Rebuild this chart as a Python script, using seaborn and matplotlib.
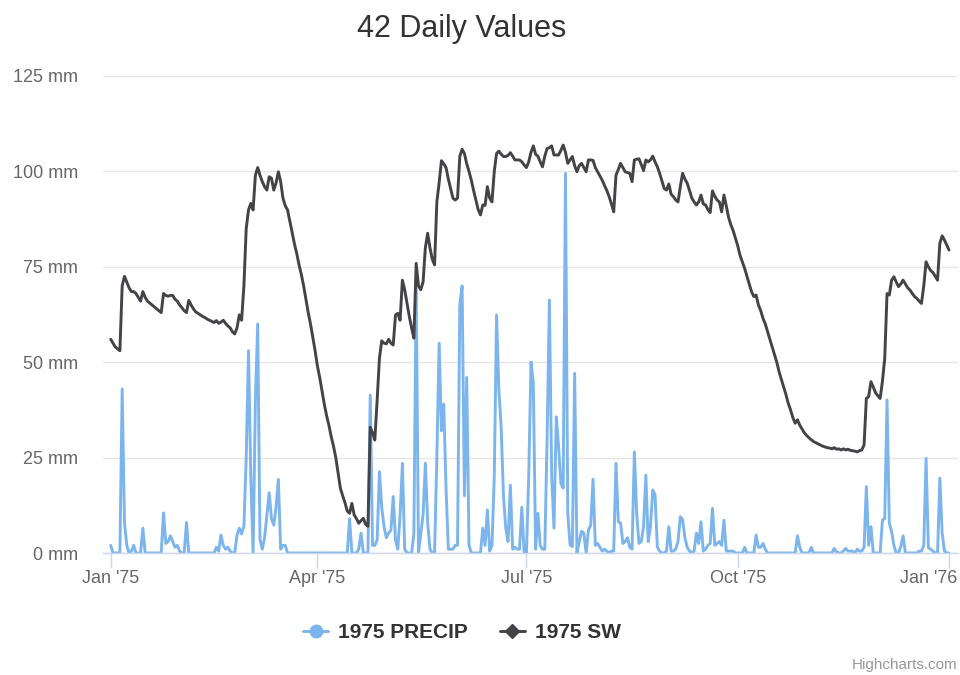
import pandas as pd
import matplotlib
matplotlib.use('Agg')
from matplotlib import pyplot as plt
from matplotlib.lines import Line2D
from matplotlib.transforms import ScaledTranslation
import seaborn as sns

# daily values for 1975, day 0 = Jan 1 1975 ... day 365 = Jan 1 1976
precip = [
    2, 0, 0, 0, 0, 43, 8, 2, 0, 0.5,
    2, 0, 0, 0, 6.5, 0, 0, 0, 0, 0,
    0, 0, 0, 10.5, 2.5, 3, 4.5, 3, 1.5, 2,
    0.5, 0, 0, 8, 0, 0, 0, 0, 0, 0,
    0, 0, 0, 0, 0, 0, 1.5, 0.5, 4.7, 2,
    1, 1.5, 0.5, 0, 0, 4.7, 6.5, 5, 7, 25,
    53, 20, 0, 40, 60, 3.5, 1, 4, 10, 15.8,
    9, 7.3, 12, 19.3, 1, 2, 2, 0, 0, 0,
    0, 0, 0, 0, 0, 0, 0, 0, 0, 0,
    0, 0, 0, 0, 0, 0, 0, 0, 0, 0,
    0, 0, 0, 0, 9, 0, 0, 0, 1, 5.2,
    0, 0, 0, 41.4, 2, 2, 3.4, 21.3, 12, 6.9,
    4, 5.2, 6, 14.8, 3.4, 1, 10, 23.5, 1, 0,
    0, 0, 5, 71, 0, 5, 10, 23.5, 8, 1,
    0, 0, 25, 55, 32, 39, 17, 1, 1, 1,
    2, 2, 65, 70, 15, 46, 2, 0, 0, 0,
    0, 0, 6.5, 2, 11.3, 0.5, 2, 20, 62.4, 42.7,
    33, 15, 6.5, 3, 17.8, 1, 1.5, 1, 1, 12,
    0, 0, 20, 50, 44.5, 1, 10.4, 2, 1, 1,
    30, 66.3, 20, 6.5, 35.7, 27.9, 18.3, 17, 99.5, 10.4,
    2.1, 1.7, 47.1, 0, 3, 5.7, 5.2, 0, 6, 7.3,
    19.3, 2, 2.5, 1.5, 0.5, 1, 0.5, 0, 0.5, 0.5,
    23.5, 8.2, 7.8, 2.5, 3, 4, 1.5, 1, 26.5, 10.4,
    2.5, 3, 7, 20.4, 3, 6.9, 16.5, 15.2, 1.5, 0.5,
    0, 0, 0.5, 6.9, 0.5, 0.5, 1, 3, 9.5, 8.7,
    4, 1.5, 0.5, 0, 0.5, 5.2, 2.5, 8.2, 0.5, 1,
    2, 2.5, 11.7, 2, 2.5, 3, 2, 8.6, 0.5, 0.5,
    0.5, 0.5, 0, 0, 0, 0, 1.5, 0, 0, 0,
    0, 4.7, 1.5, 1.5, 2.5, 1, 0, 0, 0, 0,
    0, 0, 0, 0, 0, 0, 0, 0, 0, 4.5,
    1.5, 0, 0, 0, 0, 1.5, 0, 0, 0, 0,
    0, 0, 0, 0, 0, 1.2, 0.3, 0, 0, 0.5,
    1.2, 0.5, 0.5, 0.5, 0, 1, 0.5, 0.5, 1.5, 17.4,
    2, 6.9, 0, 0, 0, 0, 8.6, 9, 40.1, 7.8,
    5.6, 2, 0, 0, 1.7, 4.5, 0, 0, 0, 0,
    0, 0, 0.5, 0.5, 2, 24.8, 1.4, 1, 0.5, 0,
    0, 19.6, 5.2, 0.5, 0, 0,
]

sw = [
    56, 55, 54, 53.5, 53, 70, 72.5, 71, 69.5, 68.5,
    68.5, 68, 67, 66, 68.5, 67, 66, 65.5, 65, 64.5,
    64, 63.5, 63, 68, 67.5, 67.3, 67.5, 67.5, 66.5, 66,
    65, 64.3, 63.5, 63, 66.2, 65, 64, 63.2, 62.8, 62.4,
    62, 61.7, 61.3, 61, 60.7, 60.4, 60.9, 60.2, 60.5, 61,
    60.2, 59.5, 59, 58, 57.4, 59, 62.4, 61, 70, 85,
    89.9, 91.6, 89.9, 99, 101, 99, 97.3, 96, 95.1, 98.6,
    98.2, 95.1, 97, 99.9, 97.3, 93, 91, 89.9, 87, 84,
    81, 78.5, 75.5, 73, 70, 66.5, 63, 60, 56.5, 53,
    49, 46, 42.5, 39, 36, 33.5, 30.5, 28, 25, 21,
    17, 15, 13.2, 11, 10.4, 13, 10, 9, 7.8, 8.5,
    9.1, 7.5, 7, 33, 31.5, 29.6, 40, 51, 55.6, 55,
    54.8, 56, 55, 54.5, 62.4, 62.8, 61, 71.5, 69, 65.5,
    62, 59, 56.3, 75.9, 70, 69, 71, 80, 83.8, 80,
    77, 75.5, 92, 97, 102.8, 102, 101, 98, 95.5, 93,
    92.5, 93, 104, 105.8, 104.7, 102, 100, 97.7, 95, 92.5,
    90, 88.6, 91.2, 91.1, 96, 93, 92, 100, 104.7, 105.3,
    104.5, 103.9, 103.9, 104.2, 104.9, 104, 103, 103, 103, 102.5,
    101.7, 101, 102.5, 105, 106.7, 104.5, 104, 102.5, 101.2, 104,
    106, 106.2, 106.7, 104.3, 104.3, 104.3, 105.5, 106.9, 105, 102.1,
    103, 103.9, 101.5, 99.9, 101.5, 102.1, 101, 99.9, 103, 103,
    102.9, 101, 99.9, 98.8, 97.7, 96.3, 95, 93.4, 91.5, 89.4,
    99, 100.5, 102.1, 101, 99.9, 99.7, 99.5, 97.3, 103, 103.2,
    103.3, 101.8, 100.2, 103, 102.5, 103, 104, 102.5, 101.2, 99.5,
    97.5, 95.5, 95.1, 96.7, 94, 93.4, 92.5, 92, 96, 99.5,
    98, 96.9, 95, 93, 92, 91.2, 92, 93.8, 91.5, 91.2,
    90, 89.2, 94.9, 93.5, 92.5, 92, 89.4, 93.8, 91, 88,
    86, 84.5, 82.5, 80.5, 78, 76.3, 74.6, 72.5, 70.5, 68.5,
    67.2, 67.6, 65, 63.5, 61.5, 60, 58, 56, 54, 52,
    50, 47.5, 45.5, 43.5, 41.5, 39.2, 37.5, 35.5, 34, 34.9,
    33.5, 32.5, 31.5, 30.8, 30.2, 29.7, 29.2, 28.9, 28.6, 28.3,
    28, 27.8, 27.6, 27.5, 27.3, 27.6, 27.2, 27.3, 27, 27.3,
    27, 27.2, 26.9, 26.8, 26.7, 26.5, 26.8, 27, 28.3, 40.5,
    41, 44.9, 43.5, 42, 41.2, 40.5, 45, 51, 68, 67.6,
    71.5, 72.4, 71, 69.8, 70.5, 71.5, 70.5, 69.5, 68.9, 68,
    67.2, 66.7, 66, 65.4, 70, 76.3, 75, 74, 73.5, 72.5,
    71.5, 81.2, 83.1, 82, 80.7, 79.4,
]

tick_days = [0, 90, 181, 273, 365]
tick_labels = ["Jan '75", "Apr '75", "Jul '75", "Oct '75", "Jan '76"]
y_ticks = [0, 25, 50, 75, 100, 125]

series_names = ['1975 PRECIP', '1975 SW']
colors = {'1975 PRECIP': '#7cb5ec', '1975 SW': '#434348'}

days = list(range(len(sw)))
df = pd.concat([
    pd.DataFrame({'day': days, 'mm': precip, 'series': '1975 PRECIP'}),
    pd.DataFrame({'day': days, 'mm': sw, 'series': '1975 SW'}),
])

sns.set_theme(style='white')
plt.rcParams['font.family'] = ['Liberation Sans', 'DejaVu Sans']

fig = plt.figure(figsize=(9.6, 6.75), dpi=100)
ax = fig.add_axes([103 / 960, 122 / 675, 855 / 960, 477 / 675])

sns.lineplot(data=df, x='day', y='mm', hue='series', hue_order=series_names,
             palette=colors, linewidth=2.1, legend=False, ax=ax)

ax.set_xlim(-3.35, 368.9)
ax.set_ylim(0, 125)
ax.set_xlabel('')
ax.set_ylabel('')

ax.set_yticks(y_ticks)
ax.set_yticklabels([f'{v} mm' for v in y_ticks])
ax.set_xticks(tick_days)
ax.set_xticklabels(tick_labels)
ax.grid(axis='y', color='#e6e6e6', linewidth=1)
ax.set_axisbelow(True)
ax.tick_params(axis='y', length=0, pad=18, labelsize=13, labelcolor='#666666')
ax.tick_params(axis='x', length=10.5, width=1, color='#ccd6eb', direction='out',
               pad=2, labelsize=13, labelcolor='#666666', bottom=True)
for side in ['top', 'right', 'left']:
    ax.spines[side].set_visible(False)
ax.spines['bottom'].set_color('#ccd6eb')
ax.spines['bottom'].set_linewidth(1)

# last label is pushed inside the chart, as highcharts does
last = ax.get_xticklabels()[-1]
last.set_horizontalalignment('right')
last.set_transform(last.get_transform() + ScaledTranslation(8 / 100, 0, fig.dpi_scale_trans))

fig.text(462 / 960, 1 - 37 / 675, '42 Daily Values', ha='center', va='baseline',
         fontsize=22, color='#333333')

handles = [
    Line2D([0], [0], color=colors['1975 PRECIP'], lw=2.1, marker='o', markersize=9),
    Line2D([0], [0], color=colors['1975 SW'], lw=2.1, marker='D', markersize=7),
]
leg = fig.legend(handles, series_names, loc='center', bbox_to_anchor=(462 / 960, 42 / 675),
                 ncol=2, frameon=False, handlelength=1.2, handletextpad=0.5,
                 columnspacing=1.5, prop={'weight': 'bold', 'size': 15})
for t in leg.get_texts():
    t.set_color('#333333')

fig.text(957 / 960, 1 - 665 / 675, 'Highcharts.com', ha='right', va='center',
         fontsize=11, color='#999999')

fig.savefig('out.png', dpi=100)
